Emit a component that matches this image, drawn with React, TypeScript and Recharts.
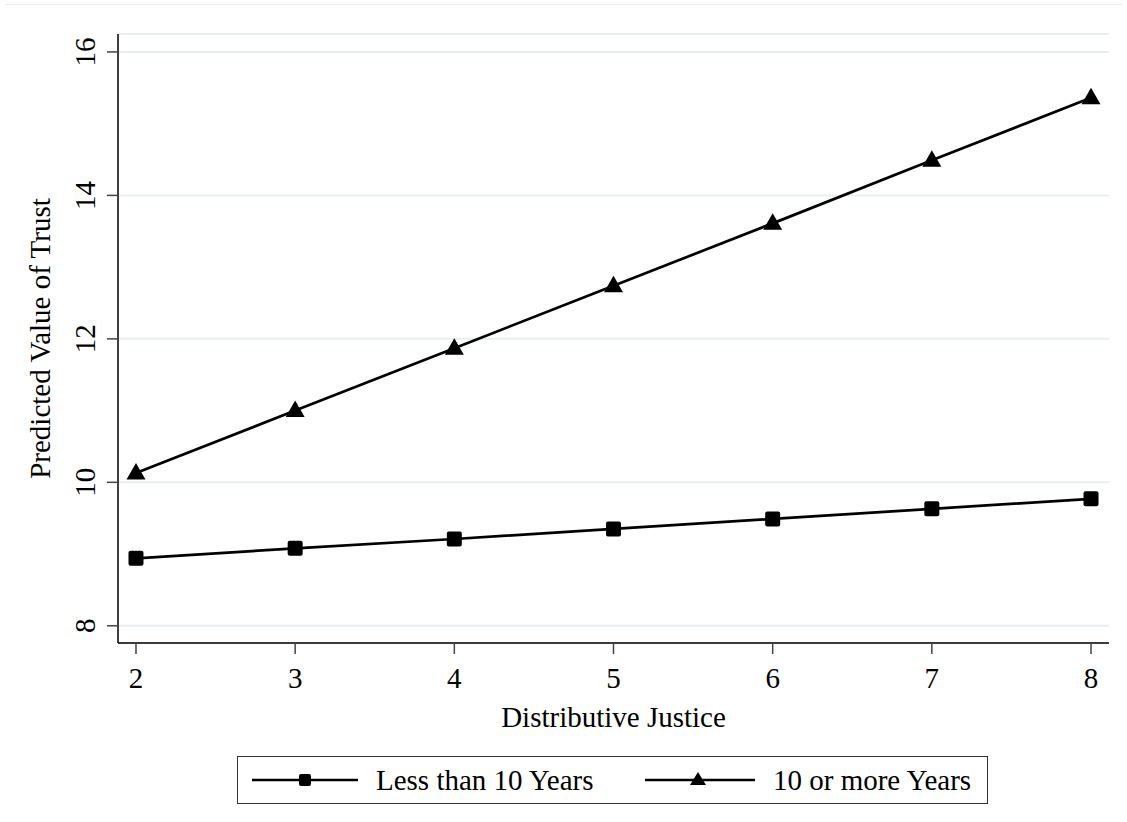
import React from 'react';
import { ComposedChart, Line, XAxis, YAxis, CartesianGrid, Legend } from 'recharts';

// values
const justice = [2, 3, 4, 5, 6, 7, 8];
const lessThan10 = [8.94, 9.08, 9.21, 9.35, 9.49, 9.63, 9.77];
const tenOrMore = [10.13, 11.0, 11.87, 12.74, 13.61, 14.49, 15.36];
const xTicks = [2, 3, 4, 5, 6, 7, 8];
const yTicks = [8, 10, 12, 14, 16];
const seriesNames = ['Less than 10 Years', '10 or more Years'];

const data = justice.map((x, i) => ({ x, less: lessThan10[i], more: tenOrMore[i] }));

const FONT = '"Liberation Serif", "Times New Roman", serif';
const FS = 29;
const INK = '#000';

const SquareDot = (props: any) => {
  const { cx, cy, index } = props;
  if (cx == null || cy == null) return <g key={`sq-${index}`} />;
  return <rect key={`sq-${index}`} x={cx - 7.5} y={cy - 7.5} width={15} height={15} rx={2} fill={INK} />;
};

const TriangleDot = (props: any) => {
  const { cx, cy, index } = props;
  if (cx == null || cy == null) return <g key={`tr-${index}`} />;
  return <path key={`tr-${index}`} d={`M${cx},${cy - 10} L${cx + 9.5},${cy + 6.5} L${cx - 9.5},${cy + 6.5} Z`} fill={INK} />;
};

const YTick = (props: any) => {
  const { x, y, payload } = props;
  return (
    <text x={x} y={y} transform={`rotate(-90 ${x} ${y})`} textAnchor="middle" fontSize={FS} fontFamily={FONT} fill={INK}>
      {payload.value}
    </text>
  );
};

const YTitle = (props: any) => {
  const vb = props.viewBox || { x: 0, y: 34, width: 118, height: 609 };
  const cx = vb.x + 50;
  const cy = vb.y + vb.height / 2;
  return (
    <text x={cx} y={cy} transform={`rotate(-90 ${cx} ${cy})`} textAnchor="middle" fontSize={FS} fontFamily={FONT} fill={INK}>
      Predicted Value of Trust
    </text>
  );
};

const LegendBox = () => (
  <svg width={751} height={48} style={{ display: 'block' }}>
    <rect x={0.5} y={0.5} width={750} height={47} fill="#fff" stroke="#333" strokeWidth={1} />
    <line x1={15} x2={121} y1={24} y2={24} stroke={INK} strokeWidth={2.5} />
    <rect x={62} y={18} width={12} height={12} rx={2} fill={INK} />
    <text x={139} y={34} fontSize={FS} fontFamily={FONT} fill={INK}>{seriesNames[0]}</text>
    <line x1={408} x2={518} y1={24} y2={24} stroke={INK} strokeWidth={2.5} />
    <path d="M461,16 L469,29 L453,29 Z" fill={INK} />
    <text x={536} y={34} fontSize={FS} fontFamily={FONT} fill={INK}>{seriesNames[1]}</text>
  </svg>
);

export default function App() {
  return (
    <div style={{ position: 'absolute', left: 0, top: 0, width: 1127, height: 822, background: '#fff' }}>
      <div style={{ position: 'absolute', left: 5, right: 5, top: 4, borderTop: '1px solid #eeeeee' }} />
      <ComposedChart width={1127} height={822} data={data} margin={{ top: 34, right: 18, left: 0, bottom: 79 }}>
        <CartesianGrid vertical={false} stroke="#e6eff1" strokeWidth={2} />
        <XAxis
          dataKey="x"
          type="number"
          domain={[1.887, 8.113]}
          ticks={xTicks}
          allowDataOverflow
          height={100}
          stroke={INK}
          strokeWidth={1.5}
          tickSize={11}
          tickMargin={13}
          tickLine={{ stroke: '#444', strokeWidth: 1.5 }}
          tick={{ fontSize: FS, fontFamily: FONT, fill: INK }}
          label={{ value: 'Distributive Justice', position: 'insideTop', offset: 63, fontSize: FS, fontFamily: FONT, fill: INK }}
        />
        <YAxis
          type="number"
          domain={[7.76, 16.25]}
          ticks={yTicks}
          allowDataOverflow
          width={118}
          stroke={INK}
          strokeWidth={1.5}
          tickSize={11}
          tickMargin={12}
          tickLine={{ stroke: '#444', strokeWidth: 1.5 }}
          tick={<YTick />}
          label={<YTitle />}
        />
        <Legend
          layout="horizontal"
          verticalAlign="middle"
          align="center"
          content={() => <LegendBox />}
          wrapperStyle={{ left: 237, top: 756, width: 751, height: 48 }}
        />
        <Line dataKey="less" name={seriesNames[0]} stroke={INK} strokeWidth={2.7} dot={SquareDot} activeDot={false} isAnimationActive={false} />
        <Line dataKey="more" name={seriesNames[1]} stroke={INK} strokeWidth={2.7} dot={TriangleDot} activeDot={false} isAnimationActive={false} />
      </ComposedChart>
    </div>
  );
}
